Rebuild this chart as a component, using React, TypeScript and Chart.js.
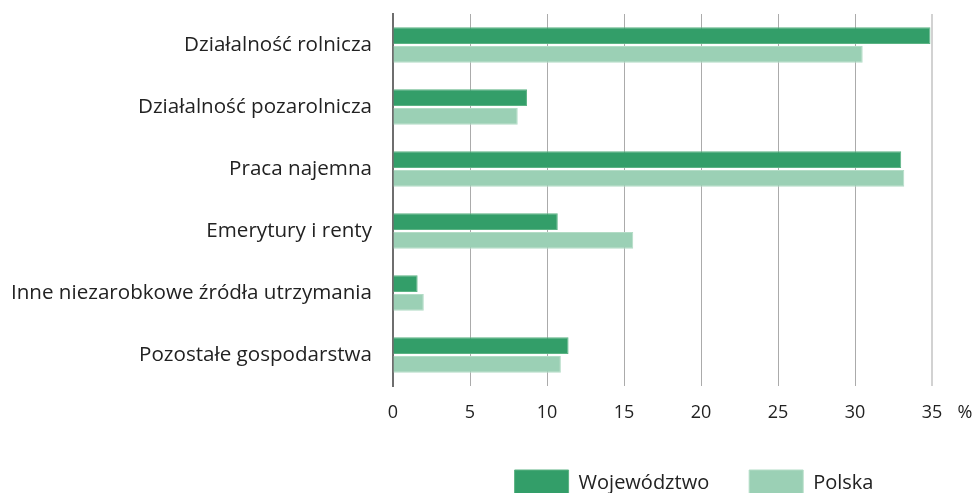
import React, { useEffect, useRef } from 'react';
import { Chart, registerables } from 'chart.js';

Chart.register(...registerables);

const categories = [
  'Działalność rolnicza',
  'Działalność pozarolnicza',
  'Praca najemna',
  'Emerytury i renty',
  'Inne niezarobkowe źródła utrzymania',
  'Pozostałe gospodarstwa',
];
const seriesNames = ['Województwo', 'Polska'];
const wojewodztwo = [34.9, 8.7, 33.0, 10.7, 1.6, 11.4];
const polska = [30.5, 8.1, 33.2, 15.6, 2.0, 10.9];
const xMin = 0;
const xMax = 35;
const xStep = 5;
const unitLabel = '%';

const FONT = '"Open Sans", "Noto Sans", sans-serif';

export default function App() {
  const ref = useRef<HTMLCanvasElement | null>(null);

  useEffect(() => {
    if (!ref.current) return;
    const unitPlugin = {
      id: 'unitPlugin',
      afterLayout(chart: any) {
        const L = chart.legend;
        if (L) {
          L.left = chart.chartArea.left + 63;
          L.right = chart.chartArea.right;
        }
      },
      afterDraw(chart: any) {
        const { ctx, chartArea } = chart;
        ctx.save();
        ctx.font = `18px ${FONT}`;
        ctx.fillStyle = '#222';
        ctx.textAlign = 'center';
        ctx.textBaseline = 'middle';
        ctx.fillText(unitLabel, chartArea.right + 33, 413);
        ctx.restore();
      },
    };
    const chart = new Chart(ref.current, {
      type: 'bar',
      data: {
        labels: categories,
        datasets: [
          {
            label: seriesNames[0],
            data: wojewodztwo,
            backgroundColor: '#339e69',
            borderColor: '#5cb384',
            borderWidth: 1,
            categoryPercentage: 0.6,
            barPercentage: 0.9,
          },
          {
            label: seriesNames[1],
            data: polska,
            backgroundColor: '#9bd0b5',
            borderColor: '#b3dcc6',
            borderWidth: 1,
            categoryPercentage: 0.6,
            barPercentage: 0.9,
          },
        ],
      },
      options: {
        indexAxis: 'y',
        responsive: false,
        animation: false,
        layout: { padding: { top: 14, right: 44, left: 0, bottom: 0 } },
        plugins: {
          tooltip: { enabled: false },
          legend: {
            position: 'bottom',
            labels: {
              boxWidth: 54,
              boxHeight: 27,
              padding: 40,
              color: '#222',
              font: { family: FONT, size: 20 },
            },
          },
        },
        scales: {
          x: {
            min: xMin,
            max: xMax,
            ticks: {
              stepSize: xStep,
              color: '#222',
              padding: 16,
              font: { family: FONT, size: 18 },
            },
            grid: {
              drawTicks: false,
              color: (c: any) => (c.tick && c.tick.value === xMax ? '#d2d2d2' : '#ababab'),
              lineWidth: (c: any) => (c.tick && c.tick.value === xMax ? 2 : 1),
            },
            border: { display: false },
            afterFit: (s: any) => {
              s.height = 44;
            },
          },
          y: {
            ticks: {
              color: '#222',
              padding: 21,
              font: { family: FONT, size: 20.6 },
            },
            grid: { display: false, drawTicks: false },
            border: { display: true, color: '#6e6e6e', width: 2 },
            afterFit: (s: any) => {
              s.width = 393;
              s.paddingTop = 0;
              s.paddingBottom = 0;
            },
          },
        },
      },
      plugins: [unitPlugin],
    } as any);
    return () => chart.destroy();
  }, []);

  return (
    <div style={{ position: 'fixed', left: 0, top: 0, width: 976, height: 507, background: '#fff' }}>
      <canvas ref={ref} width={976} height={507} style={{ display: 'block' }} />
    </div>
  );
}
